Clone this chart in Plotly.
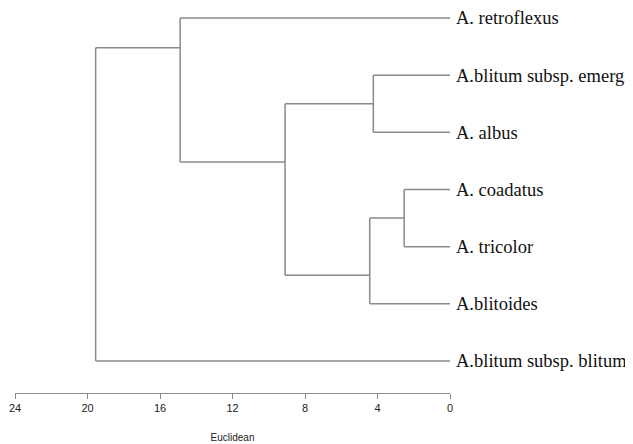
import plotly.graph_objects as go

# Leaves, top to bottom
leaf_labels = [
    "A. retroflexus",
    "A.blitum subsp. emerginatus",
    "A. albus",
    "A. coadatus",
    "A. tricolor",
    "A.blitoides",
    "A.blitum subsp. blitum",
]

# Internal nodes: (name, child_a, child_b, height (Euclidean), junction position)
node_names = ["n1", "n2", "n3", "n4", "n5", "n6"]
node_child_a = ["A.blitum subsp. emerginatus", "A. coadatus", "n2", "n1", "A. retroflexus", "n5"]
node_child_b = ["A. albus", "A. tricolor", "A.blitoides", "n3", "n4", "A.blitum subsp. blitum"]
node_height = [4.23, 2.53, 4.43, 9.10, 14.89, 19.55]
node_pos = [1.5, 3.5, 4.5, 2.52, 0.52, 3.0]

x_ticks = [24, 20, 16, 12, 8, 4, 0]
x_title = "Euclidean"

# positions / heights lookup
pos = {lab: i for i, lab in enumerate(leaf_labels)}
hgt = {lab: 0.0 for lab in leaf_labels}
for n, h, p in zip(node_names, node_height, node_pos):
    pos[n] = p
    hgt[n] = h

xs, ys = [], []
for n, a, b, h in zip(node_names, node_child_a, node_child_b, node_height):
    # vertical line
    xs += [h, h, None]
    ys += [pos[a], pos[b], None]
    # horizontal lines from children
    for c in (a, b):
        xs += [hgt[c], h, None]
        ys += [pos[c], pos[c], None]

line_col = "#8a8a8a"
fig = go.Figure()
fig.add_trace(go.Scatter(x=xs, y=ys, mode="lines",
                         line=dict(color=line_col, width=1.5),
                         hoverinfo="skip", showlegend=False))

fig.update_layout(
    width=625, height=436,
    margin=dict(l=7, r=183, t=2, b=51),
    paper_bgcolor="white", plot_bgcolor="white",
    showlegend=False,
)
fig.update_xaxes(
    range=[24, 0], tickvals=x_ticks, ticktext=[str(t) for t in x_ticks],
    showgrid=False, zeroline=False, showline=True, linecolor=line_col, linewidth=1.2,
    ticks="outside", ticklen=5, tickcolor=line_col, tickwidth=1.2,
    tickfont=dict(family="Liberation Sans Narrow, Liberation Sans, Arial", size=11, color="#222"),
    title=dict(text=x_title, standoff=20,
               font=dict(family="Liberation Sans Narrow, Liberation Sans, Arial", size=10, color="#222")),
    automargin=False,
)
fig.update_yaxes(
    range=[6.56, -0.14], side="right",
    tickvals=list(range(len(leaf_labels))), ticktext=leaf_labels,
    showgrid=False, zeroline=False, showline=False, ticks="",
    ticklabelstandoff=5, ticklabeloverflow="allow",
    tickfont=dict(family="Liberation Serif, Times New Roman, serif", size=18.5, color="#111"),
    automargin=False,
)

fig.write_html("out.html")
